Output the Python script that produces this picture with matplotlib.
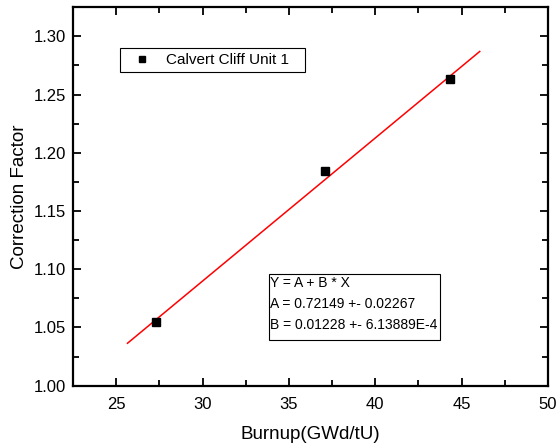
import numpy as np
import matplotlib
matplotlib.use("Agg")
import matplotlib.pyplot as plt
from matplotlib.ticker import MultipleLocator
from matplotlib.patches import Rectangle

plt.rcParams['font.family'] = ['Liberation Sans', 'DejaVu Sans']

# datos
burnup = [27.3, 37.1, 44.3]
factor = [1.055, 1.184, 1.263]
A, B = 0.72149, 0.01228
fit_x = [25.65, 46.05]
etiqueta = "Calvert Cliff Unit 1"
texto_ajuste = ["Y = A + B * X",
                "A = 0.72149 +- 0.02267",
                "B = 0.01228 +- 6.13889E-4"]

fig = plt.figure(figsize=(5.58, 4.48), dpi=100)
ax = fig.add_axes([0.131, 0.139, 0.851, 0.845])

ax.plot(burnup, factor, "s", color="black", markersize=6, label=etiqueta, zorder=3)
xx = np.array(fit_x)
ax.plot(xx, A + B * xx, color="red", lw=1.1, zorder=2)

ax.set_xlim(22.5, 50)
ax.set_ylim(1.0, 1.325)
ax.xaxis.set_major_locator(MultipleLocator(5))
ax.xaxis.set_minor_locator(MultipleLocator(2.5))
ax.yaxis.set_major_locator(MultipleLocator(0.05))
ax.yaxis.set_minor_locator(MultipleLocator(0.025))
ax.yaxis.set_major_formatter(matplotlib.ticker.FormatStrFormatter("%.2f"))
ax.tick_params(which="both", direction="in", top=True, right=True, width=1.3,
               labelsize=12)
ax.tick_params(axis="x", pad=8)
ax.tick_params(axis="y", pad=5)
ax.tick_params(which="major", length=6)
ax.tick_params(which="minor", length=4)
for s in ax.spines.values():
    s.set_linewidth(1.6)

ax.set_xlabel("Burnup(GWd/tU)", fontsize=13.5, labelpad=10)
ax.set_ylabel("Correction Factor", fontsize=13.5, labelpad=4)

# marco de la leyenda (mas ancho a la derecha, como en el original)
ax.add_patch(Rectangle((0.099, 0.8278), 0.3896, 0.0634, transform=ax.transAxes,
                       fc="white", ec="black", lw=0.8, zorder=4))
leg = ax.legend(loc="upper left", bbox_to_anchor=(0.0989, 0.892), fontsize=11,
                frameon=False, handletextpad=0.49, borderpad=0.34,
                markerscale=0.8, handlelength=2.16, borderaxespad=0)
leg.set_zorder(5)

# cuadro con los parametros del ajuste
ax.add_patch(Rectangle((0.4127, 0.1207), 0.3601, 0.1743, transform=ax.transAxes,
                       fc="white", ec="black", lw=0.8, zorder=4))
ax.text(0.4150, 0.290, "\n".join(texto_ajuste), transform=ax.transAxes,
        fontsize=10, va="top", ha="left", linespacing=1.62, zorder=5)

fig.savefig("out.png", dpi=100)
